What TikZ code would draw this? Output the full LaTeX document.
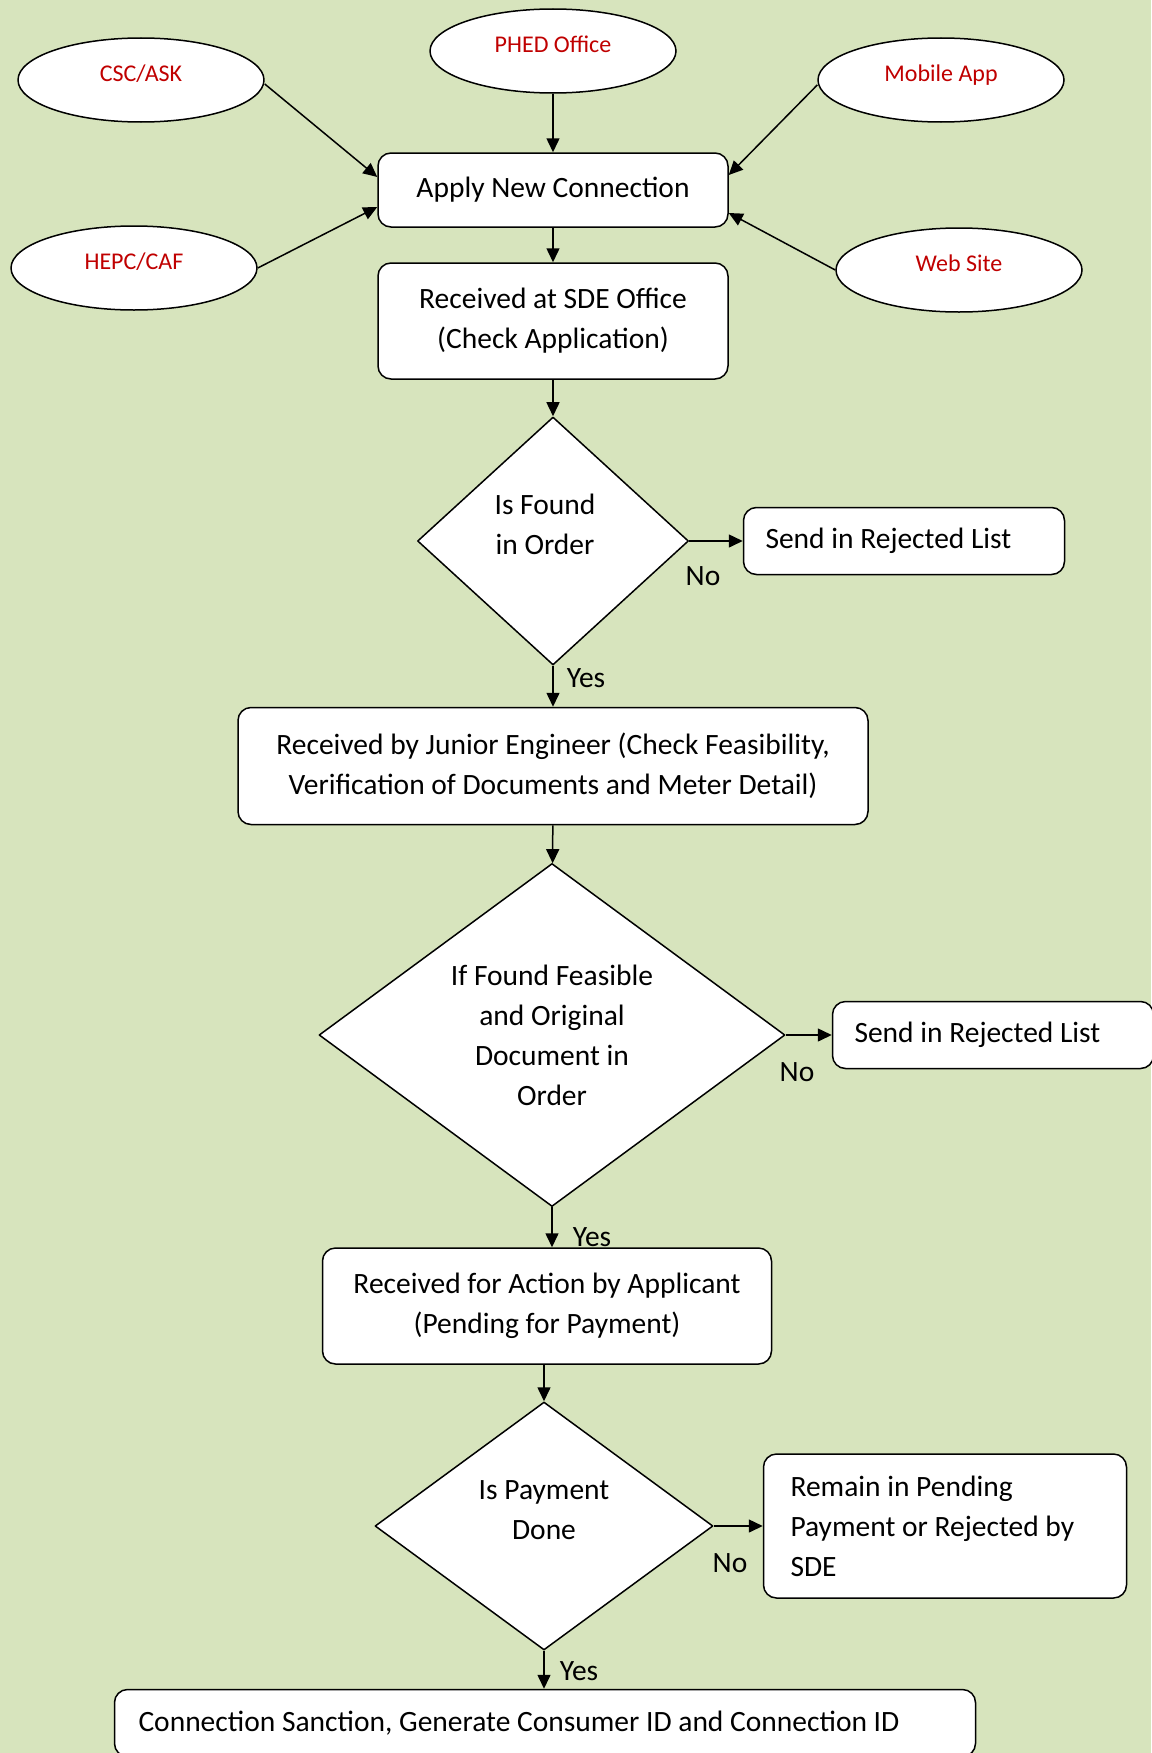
\documentclass[tikz,border=0pt]{standalone}
\usepackage{fontspec}
\setmainfont{Carlito}
\usetikzlibrary{shapes.geometric,arrows.meta}
\definecolor{bgreen}{RGB}{215,228,189}
\definecolor{dred}{RGB}{192,0,0}
\tikzset{box/.style={draw,fill=white,rounded corners=13pt,align=center,inner sep=0pt}}
\tikzset{lbox/.style={draw,fill=white,rounded corners=13pt,align=flush left,inner ysep=0pt}}
\tikzset{src/.style={draw,fill=white,ellipse,minimum width=246pt,minimum height=84pt,inner sep=0pt,text height=17pt,text depth=14pt,text=dred,font=\fontsize{24}{28}\selectfont}}
\tikzset{dec/.style={draw,fill=white,diamond,inner sep=0pt}}
\tikzset{l/.style={font=\fontsize{29.5}{29.5}\selectfont}}

\begin{document}
\begin{tikzpicture}[x=1pt,y=-1pt,line width=1.5pt,line join=round,>={Triangle[length=14pt,width=13pt]}]
  \fill[bgreen] (0,0) rectangle (1151,1753);
  \useasboundingbox (0,0) rectangle (1151,1753);
  \begin{scope}[font=\fontsize{29.5}{40}\selectfont]
    \node[box, minimum width=350pt, minimum height=74pt] (A) at (553,190) {Apply New Connection};
    \node[src] (P) at (141,80) {CSC/ASK};
    \node[src] (Q) at (134,268) {HEPC/CAF};
    \node[src] (R) at (553,51) {PHED Office}
      edge [->] (A);
    \node[src] (S) at (941,80) {Mobile App};
    \node[src] (T) at (959,270) {Web Site};
    \draw[->] ([yshift=-4pt]P.east) -- ([yshift=13pt]A.west);
    \draw[->] (Q.east) -- ([yshift=-17pt]A.west);
    \draw[->] ([yshift=-5pt]S.west) -- ([yshift=15pt]A.east);
    \draw[->] (T.west) -- ([yshift=-23pt]A.east);
    \node[box, minimum width=350pt, minimum height=116pt] (B) at (553,321) {Received at SDE Office\\(Check Application)}
      edge [<-] (A);
    \node[dec, minimum width=271pt, minimum height=248pt] (C) at (553,541) {}
      edge [<-] (B);
    \node[align=center] (Ct) at (545,524) {Is Found\\in Order};
    \node[lbox, text width=277pt, inner xsep=22pt, minimum height=67pt] (D) at (904,541) {Send in Rejected List}
      edge [<-] (C);
    \node[l] (n1) at (703,576) {No};
    \node[box, minimum width=630pt, minimum height=117pt] (E) at (553,766) {Received by Junior Engineer (Check Feasibility,\\Verification of Documents and Meter Detail)}
      edge [<-] (C);
    \node[l] (y1) at (586,678) {Yes};
    \node[dec, minimum width=466pt, minimum height=343pt] (F) at (552,1035) {}
      edge [<-] (E);
    \node[align=center] (Ft) at (552,1035) {If Found Feasible\\and Original\\Document in\\Order};
    \node[lbox, text width=277pt, inner xsep=22pt, minimum height=67pt] (G) at (993,1035) {Send in Rejected List}
      edge [<-] (F);
    \node[l] (n2) at (797,1072) {No};
    \node[box, minimum width=449pt, minimum height=116pt] (H) at (547,1306) {Received for Action by Applicant\\(Pending for Payment)};
    \draw[->] (F.south) -- (F.south |- H.north);
    \node[l] (y2) at (592,1237) {Yes};
    \node[dec, minimum width=338pt, minimum height=248pt] (I) at (544,1526) {};
    \draw[->] (I.north |- H.south) -- (I.north);
    \node[align=center] (It) at (544,1510) {Is Payment\\Done};
    \node[lbox, text width=309pt, inner xsep=27pt, minimum height=144pt] (J) at (945,1526) {Remain in Pending\\Payment or Rejected by\\SDE}
      edge [<-] (I);
    \node[l] (n3) at (730,1563) {No};
    \node[lbox, text width=813pt, inner xsep=24pt, minimum height=67pt] (K) at (545,1723) {Connection Sanction, Generate Consumer ID and Connection ID};
    \draw[->] (I.south) -- (I.south |- K.north);
    \node[l] (y3) at (579,1671) {Yes};
  \end{scope}
\end{tikzpicture}
\end{document}
